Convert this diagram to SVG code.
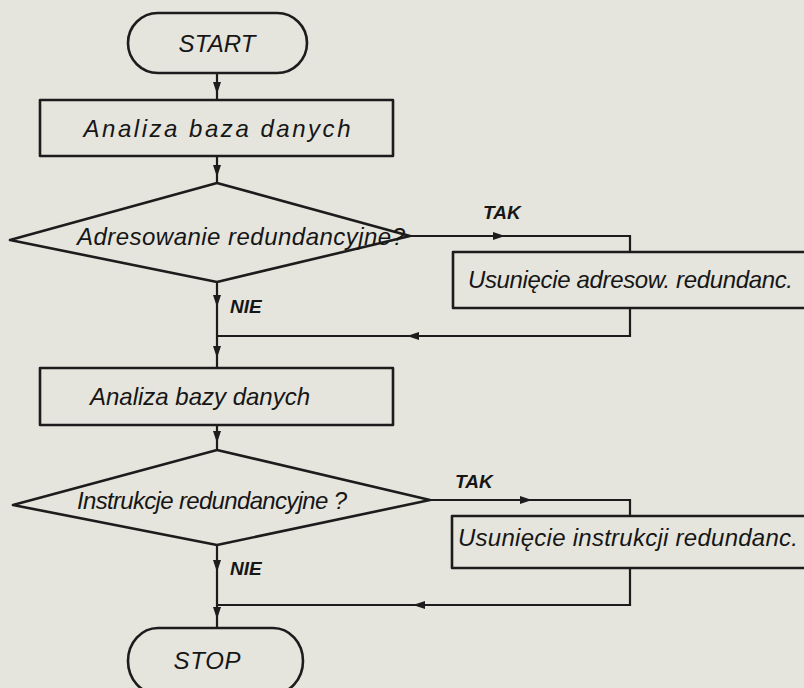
<svg xmlns="http://www.w3.org/2000/svg" xmlns:xlink="http://www.w3.org/1999/xlink" width="804" height="688" viewBox="0 0 804 688">
<style>
.sh{fill:none;stroke:#1c1c1c;stroke-width:2.6;stroke-linejoin:round}
.ln{fill:none;stroke:#1c1c1c;stroke-width:2.2}
.t{font-family:"Liberation Sans","DejaVu Sans",sans-serif;font-style:italic;font-size:24px;fill:#161616}
.lb{font-family:"Liberation Sans","DejaVu Sans",sans-serif;font-style:italic;font-weight:bold;font-size:19px;fill:#161616}
.ah{fill:#1c1c1c}
</style>
<defs>
<path id="ad" d="M-4,-7 L4,-7 L0,5 Z"/>
</defs>
<rect width="804" height="688" fill="#e5e5dd"/>
<g id="connectors">
<path class="ln" d="M217,73 V100"/>
<path class="ln" d="M217,156 V183"/>
<path class="ln" d="M410,236 H630 V252"/>
<path class="ln" d="M630,308 V336 H217"/>
<path class="ln" d="M217,282 V368"/>
<path class="ln" d="M217,425 V450"/>
<path class="ln" d="M430,500 H630 V516"/>
<path class="ln" d="M630,568 V605 H217"/>
<path class="ln" d="M217,545 V628"/>
<use class="ah" xlink:href="#ad" x="217" y="89"/>
<use class="ah" xlink:href="#ad" x="217" y="172"/>
<use class="ah" xlink:href="#ad" x="217" y="302"/>
<use class="ah" xlink:href="#ad" x="217" y="353"/>
<use class="ah" xlink:href="#ad" x="217" y="438"/>
<use class="ah" xlink:href="#ad" x="217" y="567"/>
<use class="ah" xlink:href="#ad" x="217" y="614"/>
<use class="ah" xlink:href="#ad" transform="translate(500,236) rotate(-90)"/>
<use class="ah" xlink:href="#ad" transform="translate(527,500) rotate(-90)"/>
<use class="ah" xlink:href="#ad" transform="translate(412,336) rotate(90)"/>
<use class="ah" xlink:href="#ad" transform="translate(418,605) rotate(90)"/>
<text class="lb" x="483" y="219">TAK</text>
<text class="lb" x="230" y="313">NIE</text>
<text class="lb" x="455" y="488">TAK</text>
<text class="lb" x="230" y="575">NIE</text>
</g>
<g id="start">
<rect class="sh" x="128" y="13" width="179" height="60" rx="30" ry="30"/>
<text class="t" x="217" y="52" text-anchor="middle" textLength="77">START</text>
</g>
<g id="analiza-baza">
<rect class="sh" x="40" y="100" width="353" height="56"/>
<text class="t" x="217" y="137" text-anchor="middle" textLength="267">Analiza baza danych</text>
</g>
<g id="adresowanie">
<path class="sh" d="M217,183 L410,236 L217,282 L10,240 Z"/>
<text class="t" x="77" y="245" textLength="328">Adresowanie redundancyjne?</text>
</g>
<g id="usuniecie-adresow">
<rect class="sh" x="453" y="252" width="380" height="56"/>
<text class="t" x="468" y="288" textLength="325">Usunięcie adresow. redundanc.</text>
</g>
<g id="analiza-bazy">
<rect class="sh" x="40" y="368" width="353" height="57"/>
<text class="t" x="90" y="405" textLength="220">Analiza bazy danych</text>
</g>
<g id="instrukcje">
<path class="sh" d="M217,450 L430,500 L217,545 L13,505 Z"/>
<text class="t" x="77" y="509" textLength="270">Instrukcje redundancyjne ?</text>
</g>
<g id="usuniecie-instrukcji">
<rect class="sh" x="452" y="516" width="380" height="52"/>
<text class="t" x="458" y="546" textLength="340">Usunięcie instrukcji redundanc.</text>
</g>
<g id="stop">
<rect class="sh" x="128" y="628" width="175" height="66" rx="30" ry="33"/>
<text class="t" x="207" y="669" text-anchor="middle" textLength="67">STOP</text>
</g>
</svg>
